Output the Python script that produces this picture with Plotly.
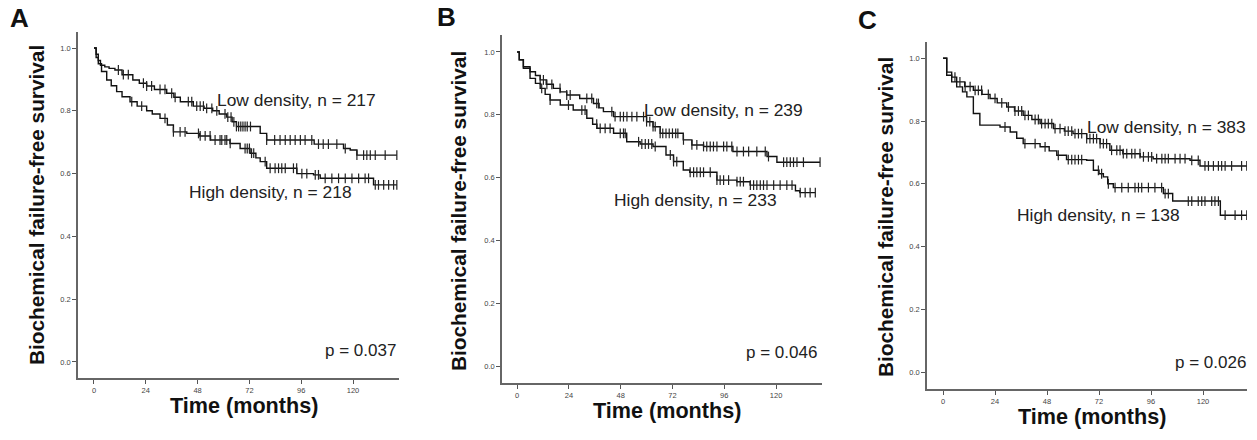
import numpy as np
import plotly.graph_objects as go

W, H = 1257, 440

# ---------------- data ----------------
x_ticks = [0, 24, 48, 72, 96, 120]
x_tick_labels = ["0", "24", "48", "72", "96", "120"]
y_ticks = [0.0, 0.2, 0.4, 0.6, 0.8, 1.0]
y_tick_labels = ["0.0", "0.2", "0.4", "0.6", "0.8", "1.0"]

panel_letters = ["A", "B", "C"]
low_labels = ["Low density, n = 217", "Low density, n = 239", "Low density, n = 383"]
high_labels = ["High density, n = 218", "High density, n = 233", "High density, n = 138"]
p_labels = ["p = 0.037", "p = 0.046", "p = 0.026"]

# Panel A
a_low_t = [0, 1, 2, 3, 5, 7, 9.7, 13, 18, 21, 24.4, 28, 33.7, 37, 40, 46, 51, 55, 58, 61.5,
           64, 66, 77, 80, 102, 115.6, 118.7, 121.8, 140.3]
a_low_s = [1.0, 0.98, 0.96, 0.945, 0.94, 0.935, 0.93, 0.915, 0.898, 0.888, 0.879, 0.868, 0.856,
           0.843, 0.829, 0.815, 0.808, 0.80, 0.79, 0.78, 0.765, 0.75, 0.728, 0.707, 0.694, 0.68,
           0.675, 0.659, 0.659]
a_low_cens = [11.3, 13.6, 15.9, 22.9, 24.4, 26.7, 30.6, 32.9, 36, 37.6, 43.7, 45.3, 47.6, 49.2,
              50.7, 52.2, 54.6, 56.9, 60.7, 62, 63.5, 64.8, 66, 67, 68, 69, 70, 71, 72.5, 80,
              83.7, 86.2, 88.6, 90.9, 93.2, 95.6, 97.8, 100.9, 104, 106.2, 108.6, 112.5, 116.4,
              121.8, 124.9, 126.4, 128, 130.3, 134.9, 140.3]
a_high_t = [0, 1, 2, 3.5, 5.9, 8, 10.5, 13, 16.7, 20, 24.4, 27, 30.6, 34, 36.8, 43, 49, 54, 63,
            67.7, 72.3, 75, 77, 80, 94, 101.7, 104.8, 129.5, 140.3]
a_high_s = [1.0, 0.97, 0.95, 0.925, 0.898, 0.88, 0.861, 0.845, 0.829, 0.815, 0.80, 0.79, 0.776,
            0.755, 0.733, 0.728, 0.72, 0.707, 0.696, 0.68, 0.665, 0.65, 0.638, 0.617, 0.60,
            0.596, 0.585, 0.564, 0.564]
a_high_cens = [17.5, 22.1, 32.9, 36.8, 39.9, 42.2, 48.4, 49.2, 51.5, 53.8, 56.1, 58.4, 59.2,
               60.7, 61.5, 63.1, 70, 71, 72, 73, 74, 79.3, 81.6, 83.9, 85.5, 87, 88.6, 92.4,
               93.9, 96.3, 98.6, 102.5, 104, 107.1, 110.2, 113.3, 116.4, 119.5, 122.6, 125.6,
               127.2, 130.3, 131.8, 134.2, 136.5, 138.8, 140.3]

# Panel B
b_low_t = [0, 1, 2.9, 6, 8.5, 10.7, 13.5, 16.8, 20, 23, 29, 35.4, 38, 40, 44.7, 60, 63, 66.3,
           77, 81, 86.4, 100, 115.8, 120.4, 140.4]
b_low_s = [1.0, 0.975, 0.953, 0.937, 0.925, 0.911, 0.897, 0.884, 0.873, 0.863, 0.852, 0.836,
           0.822, 0.81, 0.794, 0.778, 0.762, 0.741, 0.72, 0.704, 0.699, 0.683, 0.667, 0.649, 0.649]
b_low_cens = [10.7, 12.2, 13.8, 16.1, 19.9, 23, 24.6, 32.3, 34.6, 36.9, 37.7, 43.9, 45.4, 47.8,
              49.3, 50.9, 53.2, 55.5, 58.6, 60, 61.5, 63, 64, 66.3, 67.5, 69, 70.5, 72, 73.5,
              74.5, 77.1, 81, 83.3, 86.4, 87.9, 89.5, 91, 92.6, 95.7, 97.2, 99.5, 101.9, 104.9,
              107.3, 111.1, 115, 116.5, 123.5, 125, 126.6, 128.1, 129.7, 132.7, 140.4]
b_high_t = [0, 1, 2.9, 6, 8.5, 10.7, 13, 15.3, 20, 26, 32.3, 35, 37, 44.7, 50.8, 57, 63, 69,
            72.5, 77, 80, 92.6, 101.8, 108, 129, 131, 138.2]
b_high_s = [1.0, 0.975, 0.948, 0.916, 0.9, 0.884, 0.865, 0.847, 0.831, 0.815, 0.789, 0.77,
            0.757, 0.741, 0.714, 0.707, 0.699, 0.672, 0.651, 0.624, 0.617, 0.592, 0.587, 0.576,
            0.558, 0.552, 0.552]
b_high_cens = [11.4, 15.3, 23.8, 30, 31.5, 36.9, 38.5, 40.8, 43.1, 47.8, 49.3, 50.1, 56.3, 57.8,
               59.4, 60.9, 62.4, 64, 71, 72.5, 74, 80.2, 81.8, 83.3, 84.9, 86.4, 89.5, 92.6,
               94.1, 95.7, 98, 101.9, 103.4, 104.9, 108.1, 109.6, 111.1, 112.7, 114.2, 115.8,
               118.9, 121.9, 125, 127.4, 131.2, 133.5, 135.8, 138.2]

# Panel C
c_low_t = [0, 1.7, 4, 6.3, 10, 14, 18, 21.7, 25, 29.4, 33, 37, 41, 44.8, 51, 56, 60, 66.3,
           72.5, 77, 83, 91, 97, 114, 118.6, 140.2]
c_low_s = [1.0, 0.956, 0.94, 0.925, 0.91, 0.898, 0.885, 0.872, 0.858, 0.845, 0.832, 0.818,
           0.805, 0.792, 0.776, 0.768, 0.76, 0.744, 0.728, 0.707, 0.696, 0.686, 0.68, 0.675,
           0.657, 0.657]
c_low_cens = [5.5, 7.8, 10.2, 12.5, 14.8, 16.3, 17.8, 20.9, 24, 27.1, 30.2, 33.2, 34.8, 36.3,
              37.8, 39.4, 42.5, 44, 45.5, 47.1, 48.6, 50.2, 51.7, 54, 56.3, 57.8, 59.4, 60.9,
              62.5, 64, 66.3, 67.8, 69.4, 70.9, 72.5, 74, 75.5, 77.8, 80.2, 81.7, 83.2, 84.8,
              87.1, 88.6, 90.9, 92.5, 94.8, 96.3, 98.6, 101, 102.5, 104, 107.1, 109.4, 111.7,
              114.8, 117.8, 120.9, 122.5, 124.8, 127.1, 128.6, 130.2, 133.2, 137.8, 140.2]
c_high_t = [0, 1.7, 4, 6.3, 9, 11, 14, 17, 26.3, 31, 34, 37, 44.8, 49, 52.5, 57, 66.3, 69.4, 72,
            74, 76, 78.6, 101.7, 106, 128, 140.2]
c_high_s = [1.0, 0.946, 0.925, 0.909, 0.893, 0.877, 0.824, 0.787, 0.781, 0.765, 0.745, 0.728,
            0.718, 0.705, 0.691, 0.677, 0.675, 0.643, 0.632, 0.622, 0.60, 0.588, 0.569, 0.545,
            0.50, 0.50]
c_high_cens = [28.6, 37.8, 42.5, 47.1, 53.2, 57.8, 59.4, 60.9, 62.5, 64, 71.7, 73.2, 76.3, 79.4,
               82.5, 85.5, 88.6, 90.2, 91.7, 94.8, 97.8, 100.9, 102.5, 104, 113.2, 114.8, 117.8,
               119.4, 120.9, 124, 125.5, 127.1, 130.2, 134.8, 137.8, 140.2]

# ---------------- layout geometry (pixels) ----------------
panels = [
    dict(low=(a_low_t, a_low_s, a_low_cens), high=(a_high_t, a_high_s, a_high_cens),
         box=(78, 399, 32, 378), xr=[-7.4, 141.3], yr=[-0.051, 1.051],
         letter=(8, 18), ytitle=(37, 205),
         lowtxt=(215, 100), hightxt=(187, 192), ptxt=(398, 350)),
    dict(low=(b_low_t, b_low_s, b_low_cens), high=(b_high_t, b_high_s, b_high_cens),
         box=(502, 822, 35, 383), xr=[-7.0, 141.3], yr=[-0.054, 1.054],
         letter=(435, 17), ytitle=(459, 211),
         lowtxt=(642, 110), hightxt=(612, 200), ptxt=(819, 352)),
    dict(low=(c_low_t, c_low_s, c_low_cens), high=(c_high_t, c_high_s, c_high_cens),
         box=(927, 1247, 42, 389), xr=[-7.4, 140.3], yr=[-0.054, 1.052],
         letter=(856, 20), ytitle=(885, 217),
         lowtxt=(1085, 127), hightxt=(1015, 215), ptxt=(1248, 362)),
]

def px(x):
    return x / W

def py(y):
    return 1 - y / H

def step_at(times, surv, t):
    idx = np.searchsorted(np.asarray(times), np.asarray(t), side="right") - 1
    return np.asarray(surv)[idx]

fig = go.Figure()
annotations = []
layout_axes = {}

for i, p in enumerate(panels):
    n = "" if i == 0 else str(i + 1)
    xa, ya = "x" + n, "y" + n
    for (t, s, cens) in (p["low"], p["high"]):
        fig.add_trace(go.Scatter(x=t, y=s, mode="lines", line=dict(color="#111", width=1.4, shape="hv"),
                                 xaxis=xa, yaxis=ya, showlegend=False, hoverinfo="skip"))
        fig.add_trace(go.Scatter(x=cens, y=step_at(t, s, cens), mode="markers",
                                 marker=dict(symbol="line-ns", size=7, line=dict(color="#222", width=1.2)),
                                 xaxis=xa, yaxis=ya, showlegend=False, hoverinfo="skip"))
    x0, x1, y0, y1 = p["box"]
    axis_common = dict(showline=True, linecolor="#666", linewidth=1.5, ticks="outside", ticklen=4,
                       tickwidth=1, tickcolor="#555", showgrid=False, zeroline=False,
                       tickfont=dict(family="Arial", size=7.5, color="#444"), mirror=False)
    layout_axes["xaxis" + n] = dict(domain=[px(x0), px(x1)], range=p["xr"], anchor=ya,
                                    tickvals=x_ticks, ticktext=x_tick_labels, **axis_common)
    layout_axes["yaxis" + n] = dict(domain=[py(y1), py(y0)], range=p["yr"], anchor=xa,
                                    tickvals=y_ticks, ticktext=y_tick_labels, **axis_common)
    # texts
    lx, ly = p["letter"]
    annotations.append(dict(text="<b>%s</b>" % panel_letters[i], x=px(lx), y=py(ly), xref="paper",
                            yref="paper", xanchor="left", yanchor="middle", showarrow=False,
                            font=dict(family="Arial", size=26, color="#111")))
    tx, ty = p["ytitle"]
    annotations.append(dict(text="<b>Biochemical failure-free survival</b>", x=px(tx), y=py(ty),
                            xref="paper", yref="paper", textangle=-90, showarrow=False,
                            xanchor="center", yanchor="middle",
                            font=dict(family="Arial", size=20.8, color="#111")))
    annotations.append(dict(text="<b>Time (months)</b>", x=px((x0 + x1) / 2 + 5), y=py(y1 + 27),
                            xref="paper", yref="paper", showarrow=False, xanchor="center",
                            yanchor="middle", font=dict(family="Arial", size=21.6, color="#111")))
    for key, txt, anc, fs in (("lowtxt", low_labels[i], "left", 17.4),
                              ("hightxt", high_labels[i], "left", 17.4),
                              ("ptxt", p_labels[i], "right", 17)):
        ax_, ay_ = p[key]
        annotations.append(dict(text=txt, x=px(ax_), y=py(ay_), xref="paper", yref="paper",
                                showarrow=False, xanchor=anc, yanchor="middle",
                                font=dict(family="Arial", size=fs, color="#222")))

fig.update_layout(width=W, height=H, margin=dict(l=0, r=0, t=0, b=0), paper_bgcolor="white",
                  plot_bgcolor="white", annotations=annotations, **layout_axes)

fig.write_html("out.html", config={"displayModeBar": False},
               post_script="document.body.style.margin='0';document.body.style.overflow='hidden';")
